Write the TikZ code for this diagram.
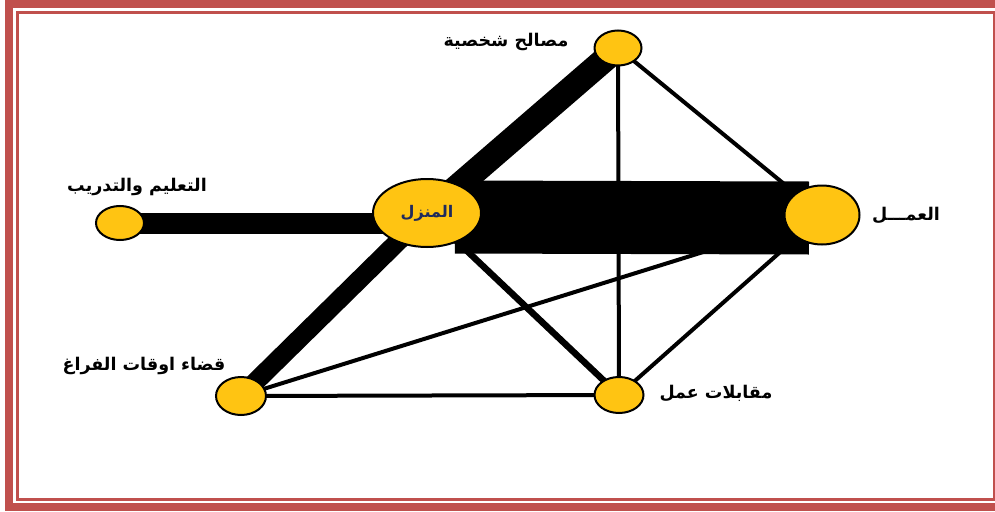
\documentclass[tikz,border=0pt]{standalone}
\usepackage{fontspec}
\newfontfamily\arabicfont[Script=Arabic]{DejaVu Sans}
\TeXXeTstate=1
\usetikzlibrary{calc,backgrounds,shapes.geometric}
\definecolor{frame}{RGB}{192,80,77}
\definecolor{nodeyellow}{RGB}{255,196,18}
\definecolor{hometext}{RGB}{31,42,92}
\tikzset{
  spot/.style={ellipse,draw=black,line width=2pt,fill=nodeyellow,inner sep=0pt},
  lab/.style={font=\arabicfont\bfseries\fontsize{17.5}{20}\selectfont,inner sep=0pt},
  thinlink/.style={line width=4pt},
}
\begin{document}
\begin{tikzpicture}[x=1pt,y=-1pt]
\useasboundingbox (0,0) rectangle (995,511);
% nodes
\node[spot,minimum width=47pt,minimum height=35pt] (pers) at (618,48) {};
\node[spot,minimum width=48pt,minimum height=34pt] (edu) at (120,223) {};
\node[spot,minimum width=108pt,minimum height=68pt,
      font=\arabicfont\bfseries\fontsize{16}{18}\selectfont,text=hometext] (home) at (427,213) {\beginR المنزل\endR};
\node[spot,minimum width=75pt,minimum height=59pt] (work) at (822,215) {};
\node[spot,minimum width=50pt,minimum height=38pt] (leis) at (241,396) {};
\node[spot,minimum width=49pt,minimum height=36pt] (intv) at (619,395) {};
% labels
\node[lab] (lpers) at (506,42) {\beginR مصالح شخصية\endR};
\node[lab] (ledu) at (137,187) {\beginR التعليم والتدريب\endR};
\node[lab] (lwork) at (906,215) {\beginR العمـــل\endR};
\node[lab] (lleis) at (144,366) {\beginR قضاء اوقات الفراغ\endR};
\node[lab] (lintv) at (716,393) {\beginR مقابلات عمل\endR};
% links and frame
\begin{pgfonlayer}{background}
\fill[white] (0,0) rectangle (995,511);
\draw[frame,line width=8pt] (9,4) rectangle (1010,507);
\draw[frame,line width=3pt] (17.5,12.5) rectangle (994,499.5);
\draw[line width=73pt] ($(home.center)+(28,4)$) -- ($(work.center)+(-13,3)$);
\draw[line width=21pt] (edu.center) -- (edu.center -| home.center);
\draw[line width=25pt] (home.center) -- (pers.center);
\draw[line width=19pt] (home.center) -- (leis.center);
\draw[line width=6.5pt] (home.center) -- (intv.center);
\draw[thinlink] (pers.center) -- (work.center);
\draw[thinlink] (pers.center) -- (intv.center);
\draw[thinlink] (work.center) -- (intv.center);
\draw[thinlink] (work.center) -- (leis.center);
\draw[thinlink] (leis.center) -- (intv.center);
\end{pgfonlayer}
\end{tikzpicture}
\end{document}
